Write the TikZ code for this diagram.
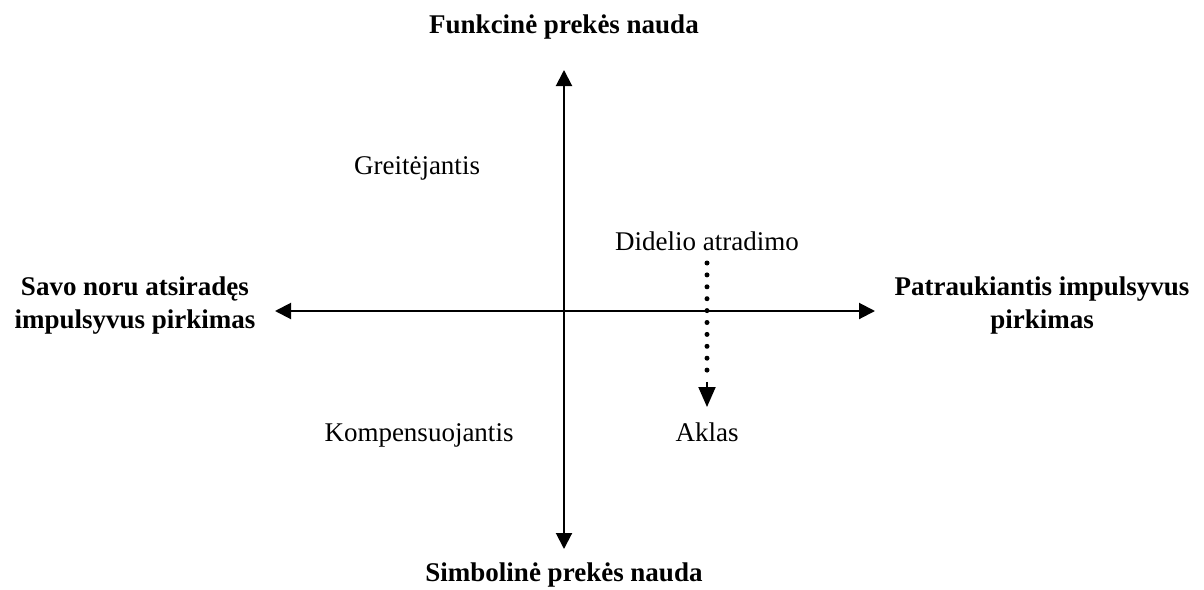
\documentclass[tikz,border=0pt]{standalone}
\usepackage{fontspec}
\setmainfont{Liberation Serif}
\usetikzlibrary{arrows.meta}
\begin{document}
\begin{tikzpicture}[x=1pt,y=-1pt,
  axis/.style={line width=2pt,-{Triangle[length=16pt,width=16pt]}},
  dotline/.style={line width=5pt,line cap=round,dash pattern=on 0pt off 11.9pt},
  tiponly/.style={line width=2pt,-{Triangle[length=20pt,width=17pt]}},
  lab/.style={font=\fontsize{27}{33}\selectfont\bfseries,align=center,inner sep=0pt},
  txt/.style={font=\fontsize{27}{33}\selectfont,inner sep=0pt,anchor=base}]
\useasboundingbox (0,0) rectangle (1204,589);
\coordinate (o) at (564,311);
\coordinate (top) at (564,70);
\coordinate (bot) at (564,549);
\coordinate (lft) at (275,311);
\coordinate (rgt) at (875,311);
\draw[axis] (o) -- (top);
\draw[axis] (o) -- (bot);
\draw[axis] (o) -- (lft);
\draw[axis] (o) -- (rgt);
\node[lab] (ft) at (564,27) {Funkcinė prekės nauda};
\node[lab] (sb) at (564,575) {Simbolinė prekės nauda};
\node[lab] (lf) at (135,306) {Savo noru atsiradęs\\impulsyvus pirkimas};
\node[lab] (rt) at (1042,306) {Patraukiantis impulsyvus\\pirkimas};
\node[txt] (gr) at (417,174) {Greitėjantis};
\node[txt] (da) at (707,250) {Didelio atradimo};
\node[txt] (ko) at (419,441) {Kompensuojantis};
\node[txt] (ak) at (707,441) {Aklas};
\coordinate (ds) at (707,263);
\coordinate (dm) at (707,381.9);
\coordinate (dt) at (707,407);
\draw[dotline] (ds) -- (dm);
\draw[tiponly] (dm) -- (dt);
\end{tikzpicture}
\end{document}
